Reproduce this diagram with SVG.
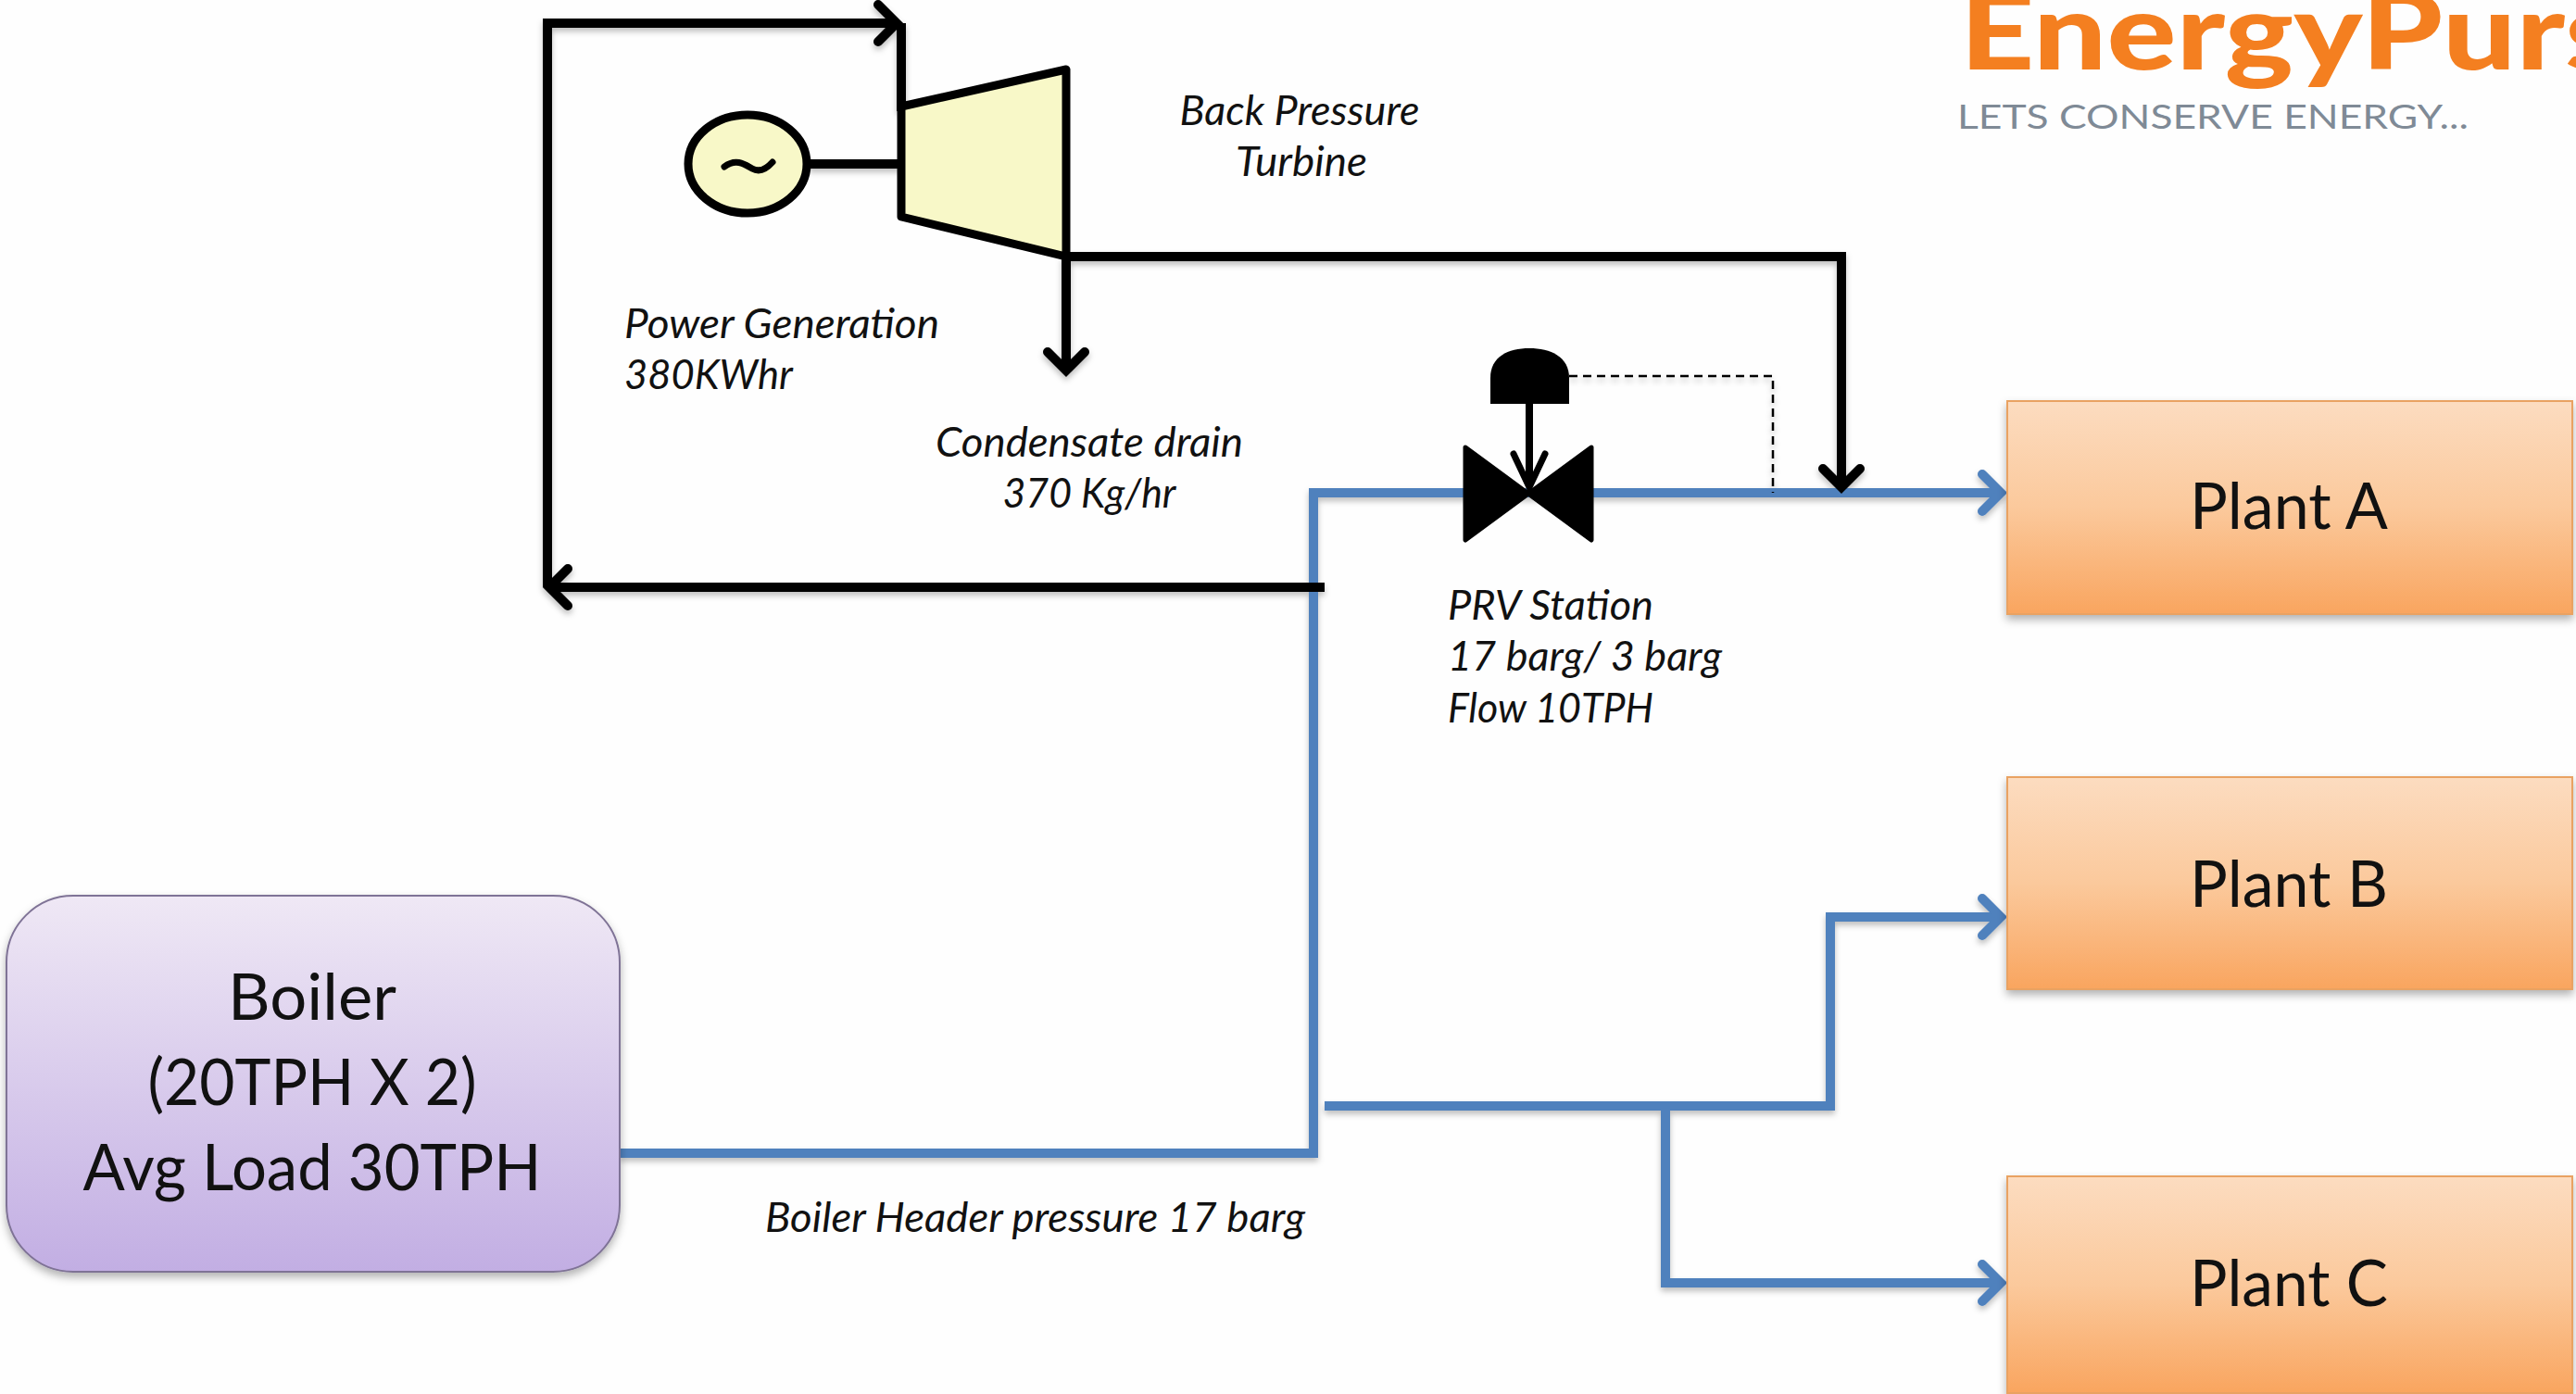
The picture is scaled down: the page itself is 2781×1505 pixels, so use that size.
<svg xmlns="http://www.w3.org/2000/svg" width="2781" height="1505" viewBox="0 0 2781 1505">
<style>
text{font-family:Lato,"Noto Sans","Liberation Sans",sans-serif;fill:#111}
.n{font-size:70px;text-anchor:middle}
.i{font-size:44px;font-style:italic}
.m{text-anchor:middle}
.k{fill:none;stroke:#000;stroke-width:10}
.b{fill:none;stroke:#4f81bd;stroke-width:10}
.p{stroke:#e9a262;stroke-width:2;fill:url(#pg);filter:url(#ds)}
</style>
<defs>
<linearGradient id="pg" x1="0" y1="0" x2="0" y2="1"><stop offset="0" stop-color="#fcdcc0"/><stop offset=".5" stop-color="#fbc99c"/><stop offset="1" stop-color="#f9a55f"/></linearGradient>
<linearGradient id="bg" x1="0" y1="0" x2="0" y2="1"><stop offset="0" stop-color="#efe8f5"/><stop offset="1" stop-color="#c2aee3"/></linearGradient>
<filter id="ds" x="-5%" y="-5%" width="110%" height="115%"><feDropShadow dx="0" dy="5" stdDeviation="5" flood-color="#000" flood-opacity=".3"/></filter>
<filter id="ls" x="-10%" y="-10%" width="120%" height="120%"><feDropShadow dx="0" dy="4" stdDeviation="3" flood-color="#000" flood-opacity=".25"/></filter>
<marker id="ak" markerUnits="userSpaceOnUse" markerWidth="50" markerHeight="60" refX="38" refY="30" orient="auto"><path d="M16 10 L36 30 L16 50" fill="none" stroke="#000" stroke-width="10" stroke-linecap="round"/></marker>
<marker id="ab" markerUnits="userSpaceOnUse" markerWidth="50" markerHeight="60" refX="38" refY="30" orient="auto"><path d="M16 10 L36 30 L16 50" fill="none" stroke="#4f81bd" stroke-width="10" stroke-linecap="round"/></marker>
</defs>
<rect width="2781" height="1505" fill="#fefefe"/>
<g id="connectors" filter="url(#ls)">
<path class="b" d="M669 1245H1418V532H2162" marker-end="url(#ab)"/>
<path class="b" d="M1430 1194H1976V990H2162" marker-end="url(#ab)"/>
<path class="b" d="M1798 1194V1385H2162" marker-end="url(#ab)"/>
<path class="k" d="M1430 634H591" marker-end="url(#ak)"/>
<path class="k" d="M591 634V25H970" marker-end="url(#ak)"/>
<path class="k" d="M973 25V120"/>
<path class="k" d="M873 177H973"/>
<path class="k" d="M1151 277H1988V528" marker-end="url(#ak)"/>
<path class="k" d="M1151 277V402" marker-end="url(#ak)"/>
<path d="M1694 406H1914V532" fill="none" stroke="#000" stroke-width="2.5" stroke-dasharray="9 6"/>
</g>
<g id="turbine"><path d="M973 115L1151 75V277L973 234Z" fill="#f8f8c8" stroke="#000" stroke-width="9" stroke-linejoin="round"/></g>
<g id="generator"><ellipse cx="807" cy="177" rx="64" ry="53" fill="#f8f8c8" stroke="#000" stroke-width="9"/><path d="M782 180C795 170 805 178 812 182S826 184 834 175" fill="none" stroke="#000" stroke-width="7" stroke-linecap="round"/></g>
<g id="prv">
<path d="M1582 483L1650 533L1582 583Z M1718 483L1650 533L1718 583Z" fill="#000" stroke="#000" stroke-width="5" stroke-linejoin="round"/>
<path d="M1609 436V408C1609 385 1628 376 1651 376S1694 385 1694 408V436Z" fill="#000"/>
<path d="M1651 436V526" stroke="#000" stroke-width="8" fill="none"/>
<path d="M1634 490L1651 526L1668 490" stroke="#000" stroke-width="7" fill="none" stroke-linecap="round"/>
</g>
<g id="boiler"><rect x="7" y="967" width="662" height="406" rx="72" fill="url(#bg)" stroke="#7f7396" stroke-width="2" filter="url(#ds)"/>
<text class="n" x="337" y="1101" textLength="182" lengthAdjust="spacingAndGlyphs">Boiler</text><text class="n" x="337" y="1193" textLength="355" lengthAdjust="spacingAndGlyphs">(20TPH X 2)</text><text class="n" x="337" y="1285" textLength="495" lengthAdjust="spacingAndGlyphs">Avg Load  30TPH</text></g>
<g id="plant-a"><rect class="p" x="2167" y="433" width="610" height="230"/><text class="n" x="2471" y="571" textLength="214" lengthAdjust="spacingAndGlyphs">Plant A</text></g>
<g id="plant-b"><rect class="p" x="2167" y="839" width="610" height="229"/><text class="n" x="2471" y="979" textLength="214" lengthAdjust="spacingAndGlyphs">Plant B</text></g>
<g id="plant-c"><rect class="p" x="2167" y="1270" width="610" height="234"/><text class="n" x="2471" y="1410" textLength="214" lengthAdjust="spacingAndGlyphs">Plant C</text></g>
<g id="labels">
<text class="i m" x="1403" y="135" textLength="259" lengthAdjust="spacingAndGlyphs">Back Pressure</text>
<text class="i m" x="1405" y="190" textLength="142" lengthAdjust="spacingAndGlyphs">Turbine</text>
<text class="i" x="674" y="365" textLength="340" lengthAdjust="spacingAndGlyphs">Power Generation</text>
<text class="i" x="674" y="420" textLength="182" lengthAdjust="spacingAndGlyphs">380KWhr</text>
<text class="i m" x="1176" y="493" textLength="332" lengthAdjust="spacingAndGlyphs">Condensate drain</text>
<text class="i m" x="1176" y="548" textLength="187" lengthAdjust="spacingAndGlyphs">370 Kg/hr</text>
<text class="i" x="1563" y="669" textLength="222" lengthAdjust="spacingAndGlyphs">PRV Station</text>
<text class="i" x="1563" y="724" textLength="296" lengthAdjust="spacingAndGlyphs">17 barg/ 3 barg</text>
<text class="i" x="1563" y="780" textLength="222" lengthAdjust="spacingAndGlyphs">Flow 10TPH</text>
<text class="i" x="826" y="1330" textLength="583" lengthAdjust="spacingAndGlyphs">Boiler Header pressure 17 barg</text>
</g>
<g id="logo">
<text x="2116" y="75" font-size="115" font-weight="900" textLength="715" lengthAdjust="spacingAndGlyphs" style="fill:#f47f20">EnergyPurs</text>
<text x="2113" y="139" font-size="36" textLength="552" lengthAdjust="spacingAndGlyphs" style="fill:#7f8a96">LETS CONSERVE ENERGY...</text>
</g>
</svg>
